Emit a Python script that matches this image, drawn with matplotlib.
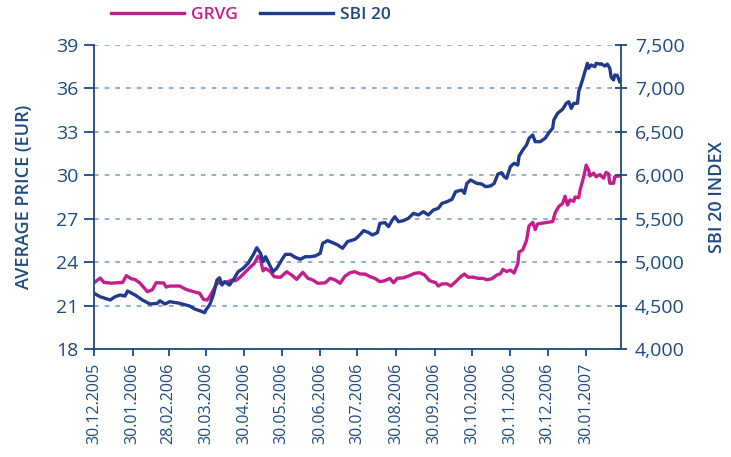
# Recreate GRVG vs SBI 20 chart
import pandas as pd
import matplotlib
matplotlib.use('Agg')
import matplotlib.pyplot as plt
import matplotlib.dates as mdates
from matplotlib.ticker import FuncFormatter

plt.rcParams['font.family'] = ['Open Sans', 'DejaVu Sans']

# GRVG average price (EUR), days after 30.12.2005
grvg_days = [0, 5, 8, 14, 23, 26, 30, 33, 37, 43, 47, 50, 56, 58, 61, 69, 74, 80, 85, 88,
             91, 93, 96, 99, 103, 108, 111, 114, 118, 122, 126, 129, 132, 134, 136, 138, 142,
             145, 150, 155, 159, 163, 168, 172, 176, 180, 186, 190, 194, 198, 202, 206, 210,
             214, 218, 222, 226, 230, 234, 238, 241, 244, 249, 253, 258, 262, 266, 270, 275,
             277, 280, 284, 287, 291, 295, 298, 301, 305, 309, 313, 316, 320, 324, 327, 329,
             332, 335, 338, 341, 342, 345, 348, 350, 353, 355, 357, 361, 365, 369, 371, 374,
             377, 379, 381, 383, 386, 387, 390, 391, 394, 396, 398, 399, 402, 404, 407, 410,
             412, 414, 415, 418, 419, 422, 424]
grvg = [22.58, 22.9, 22.6, 22.55, 22.6, 23.07, 22.85, 22.8, 22.55, 21.96, 22.1, 22.58, 22.56,
        22.28, 22.35, 22.35, 22.12, 21.96, 21.85, 21.43, 21.38, 21.61, 22.07, 22.56, 22.56,
        22.66, 22.77, 22.72, 22.99, 23.34, 23.68, 23.91, 24.42, 24.15, 23.4, 23.57, 23.34,
        22.99, 22.95, 23.34, 23.11, 22.81, 23.3, 22.89, 22.77, 22.54, 22.57, 22.89, 22.77,
        22.54, 23.04, 23.27, 23.34, 23.18, 23.18, 23.0, 22.88, 22.65, 22.72, 22.88, 22.58,
        22.88, 22.92, 23.04, 23.23, 23.27, 23.11, 22.72, 22.58, 22.35, 22.5, 22.5, 22.35,
        22.65, 22.99, 23.18, 22.96, 22.96, 22.88, 22.88, 22.78, 22.85, 23.1, 23.2, 23.5,
        23.35, 23.45, 23.25, 23.9, 24.7, 24.85, 25.5, 26.5, 26.75, 26.25, 26.65, 26.7, 26.75,
        26.8, 27.4, 27.85, 28.05, 28.55, 27.95, 28.3, 28.2, 28.5, 28.45, 28.95, 29.9, 30.7,
        30.35, 29.95, 30.15, 29.9, 30.05, 29.8, 30.2, 30.1, 29.45, 29.45, 29.9, 29.95, 29.95]

# SBI 20 index, days after 30.12.2005
sbi_days = [0, 5, 13, 17, 21, 25, 27, 33, 39, 45, 51, 53, 57, 61, 69, 77, 81, 85, 89, 90, 93,
            96, 99, 101, 103, 105, 109, 112, 116, 120, 124, 128, 131, 134, 136, 138, 140, 144,
            147, 151, 154, 158, 162, 166, 170, 174, 178, 182, 184, 188, 192, 196, 200, 204,
            210, 213, 217, 221, 224, 228, 230, 234, 237, 240, 242, 245, 249, 253, 257, 261,
            265, 269, 273, 277, 280, 284, 288, 291, 296, 298, 300, 303, 308, 312, 315, 319,
            322, 325, 328, 330, 332, 335, 338, 341, 342, 345, 348, 350, 353, 355, 359, 363,
            366, 369, 370, 373, 377, 380, 382, 384, 386, 389, 390, 393, 395, 397, 398, 400,
            403, 404, 407, 408, 411, 413, 415, 416, 418, 419, 421, 423]
sbi = [4641, 4602, 4564, 4602, 4622, 4610, 4668, 4622, 4564, 4518, 4526, 4556, 4518, 4545,
       4526, 4495, 4460, 4441, 4418, 4449, 4507, 4622, 4795, 4820, 4737, 4775, 4737, 4795,
       4890, 4929, 4987, 5082, 5166, 5102, 5006, 5063, 5006, 4890, 4929, 5025, 5090, 5090,
       5055, 5033, 5063, 5063, 5071, 5102, 5217, 5248, 5225, 5198, 5160, 5237, 5263, 5301,
       5363, 5340, 5313, 5340, 5447, 5455, 5409, 5485, 5523, 5466, 5478, 5505, 5562, 5543,
       5581, 5543, 5600, 5620, 5677, 5696, 5723, 5812, 5830, 5792, 5907, 5946, 5907, 5900,
       5869, 5877, 5907, 6015, 6030, 5984, 5965, 6100, 6138, 6118, 6222, 6292, 6349, 6426,
       6464, 6387, 6387, 6426, 6491, 6541, 6637, 6714, 6760, 6829, 6847, 6771, 6829, 6829,
       6963, 7097, 7193, 7289, 7232, 7270, 7250, 7289, 7280, 7285, 7258, 7280, 7232, 7135,
       7097, 7155, 7150, 7078]

tick_dates = ['2005-12-30', '2006-01-30', '2006-02-28', '2006-03-30', '2006-04-30',
              '2006-05-30', '2006-06-30', '2006-07-30', '2006-08-30', '2006-09-30',
              '2006-10-30', '2006-11-30', '2006-12-30', '2007-01-30']
left_ticks = [18, 21, 24, 27, 30, 33, 36, 39]
right_ticks = [4000, 4500, 5000, 5500, 6000, 6500, 7000, 7500]

start = pd.Timestamp('2005-12-30')
grvg_x = start + pd.to_timedelta(grvg_days, unit='D')
sbi_x = start + pd.to_timedelta(sbi_days, unit='D')

navy = '#1d4a80'
magenta = '#c41e8e'
blue = '#213a8c'
grid_c = '#7896bb'

fig = plt.figure(figsize=(7.31, 4.57), dpi=100)
ax = fig.add_axes([0.1286, 0.2363, 0.7209, 0.6652])
ax2 = ax.twinx()

l1, = ax.plot(grvg_x, grvg, color=magenta, lw=2.4, label='GRVG')
l2, = ax2.plot(sbi_x, sbi, color=blue, lw=2.4, label='SBI 20')

ax.set_xlim(start, pd.Timestamp('2007-02-27'))
ax.set_ylim(18, 39)
ax2.set_ylim(4000, 7500)
ax.set_yticks(left_ticks)
ax2.set_yticks(right_ticks)
ax2.yaxis.set_major_formatter(FuncFormatter(lambda v, p: f'{int(v):,}'))

ax.set_xticks(pd.to_datetime(tick_dates))
ax.xaxis.set_major_formatter(mdates.DateFormatter('%d.%m.%Y'))
for lab in ax.get_xticklabels():
    lab.set_rotation(90)

ax.grid(axis='y', linestyle=(0, (3, 4)), color=grid_c, lw=1.1)
ax.set_axisbelow(True)

for a in (ax, ax2):
    a.spines['top'].set_visible(False)
    for s in ('left', 'right', 'bottom'):
        a.spines[s].set_color(navy)
        a.spines[s].set_linewidth(1.3)
ax.spines['right'].set_visible(False)
ax2.spines['left'].set_visible(False)
ax2.spines['bottom'].set_visible(False)

ax.tick_params(axis='y', direction='out', length=7, width=1.3, color=navy,
               labelcolor=navy, labelsize=14, pad=4)
ax.tick_params(axis='x', direction='out', length=5, width=1.3, color=navy,
               labelcolor=navy, labelsize=11.5, pad=5)
ax2.tick_params(axis='y', direction='inout', length=8, width=1.3, color=navy,
                labelcolor=navy, labelsize=14, pad=6)

ax.set_ylabel('AVERAGE PRICE (EUR)', color=navy, fontsize=13, fontweight='semibold',
              labelpad=17)
ax2.set_ylabel('SBI 20 INDEX', color=navy, fontsize=13, fontweight='semibold',
               labelpad=17)

leg = fig.legend(handles=[l1, l2], loc='upper left', bbox_to_anchor=(0.13, 1.02), ncol=2,
                 frameon=False, handlelength=4.2, columnspacing=1.3,
                 handletextpad=0.4, labelcolor=[magenta, navy],
                 prop={'weight': 'semibold', 'size': 12.5})

plt.savefig('out.png', dpi=100)
